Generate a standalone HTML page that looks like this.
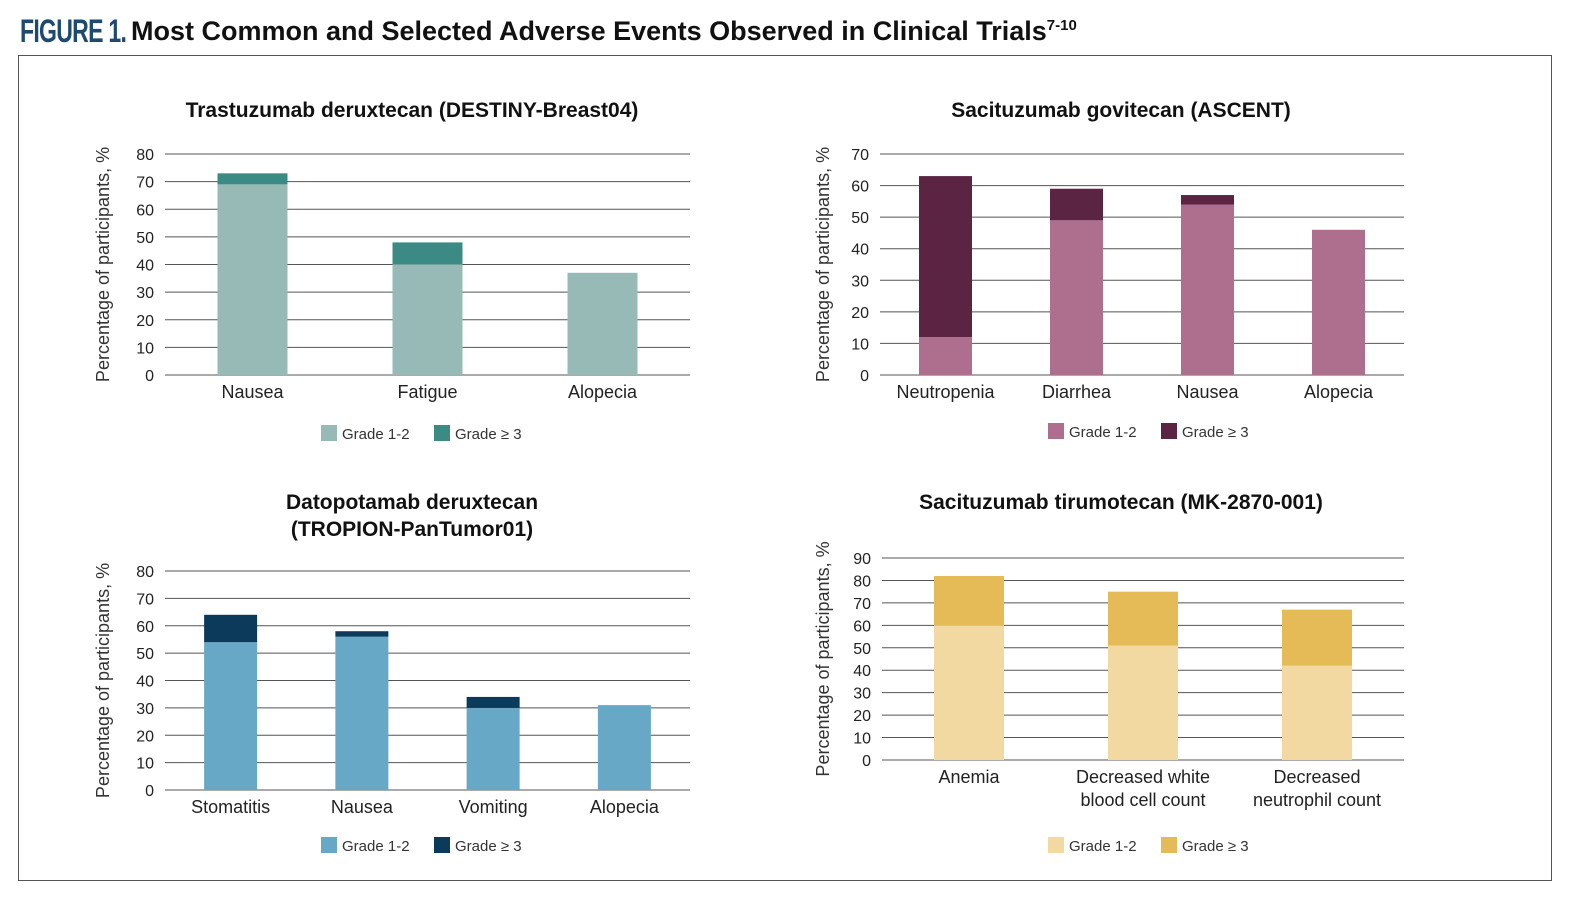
<!DOCTYPE html>
<html><head><meta charset="utf-8"><style>
body{margin:0;background:#fff;width:1594px;height:906px;overflow:hidden;font-family:"Liberation Sans",sans-serif}
#head{position:absolute;left:20px;top:13px;white-space:nowrap;width:1500px}
#fig{position:absolute;left:0;top:0;font-family:"Liberation Sans Narrow","Liberation Sans",sans-serif;font-weight:bold;color:#1d4a6e;font-size:32px;letter-spacing:-1px;transform:scaleX(0.72);transform-origin:left;display:inline-block}
#ttl{position:absolute;left:111px;top:3px;font-weight:bold;font-size:27px;color:#111}
#box{position:absolute;left:18px;top:55px;width:1532px;height:824px;border:1.5px solid #555}
svg{position:absolute;left:0;top:0}
</style></head><body>
<div id="head"><span id="fig">FIGURE 1.</span><span id="ttl">Most Common and Selected Adverse Events Observed in Clinical Trials<sup style="font-size:15px">7-10</sup></span></div>
<div id="box"></div>
<svg id="s" width="1594" height="906" xmlns="http://www.w3.org/2000/svg"></svg>
<script>
// Chart 1
const c1Cats=["Nausea","Fatigue","Alopecia"];
const c1G12=[69,40,37];
const c1G3=[4,8,0];
const c1Ticks=[0,10,20,30,40,50,60,70,80];
// Chart 2
const c2Cats=["Neutropenia","Diarrhea","Nausea","Alopecia"];
const c2G12=[12,49,54,46];
const c2G3=[51,10,3,0];
const c2Ticks=[0,10,20,30,40,50,60,70];
// Chart 3
const c3Cats=["Stomatitis","Nausea","Vomiting","Alopecia"];
const c3G12=[54,56,30,31];
const c3G3=[10,2,4,0];
const c3Ticks=[0,10,20,30,40,50,60,70,80];
// Chart 4
const c4Cats=[["Anemia"],["Decreased white","blood cell count"],["Decreased","neutrophil count"]];
const c4G12=[60,51,42];
const c4G3=[22,24,25];
const c4Ticks=[0,10,20,30,40,50,60,70,80,90];

const S=document.getElementById('s');const NS="http://www.w3.org/2000/svg";
function mk(t,a,txt){const e=document.createElementNS(NS,t);for(const k in a)e.setAttribute(k,a[k]);if(txt!==undefined)e.textContent=txt;S.appendChild(e);return e;}
function chart(o){
 const max=o.ticks[o.ticks.length-1];
 const y=v=>o.y0-(v/max)*(o.y0-o.y1);
 const n=o.cats.length,cw=(o.x1-o.x0)/n;
 const x=i=>o.x0+cw*(i+0.5);
 o.title.forEach((t,i)=>{const e=mk('text',{x:o.tx,y:o.ty+i*27,'text-anchor':'middle','font-size':21,'font-weight':'bold',fill:'#111'},t);
 });
 const yl=mk('text',{transform:`translate(${o.ylx},${(o.y0+o.y1)/2}) rotate(-90)`,'text-anchor':'middle','font-size':18,fill:'#333'},'Percentage of participants, %');
 
 o.ticks.forEach(t=>{const g=mk('line',{x1:o.x0,x2:o.x1,y1:y(t),y2:y(t),stroke:'#555','stroke-width':1});
 
 const l=mk('text',{x:o.x0-11,y:y(t)+6,'text-anchor':'end','font-size':16,fill:'#222'},t);
 });
 o.cats.forEach((c,i)=>{
  const b1=mk('rect',{x:x(i)-o.bw/2,y:y(o.g12[i]),width:o.bw,height:y(0)-y(o.g12[i]),fill:o.c1});
  
  if(o.g3[i]>0){const b2=mk('rect',{x:x(i)-o.bw/2,y:y(o.g12[i]+o.g3[i]),width:o.bw,height:y(o.g12[i])-y(o.g12[i]+o.g3[i]),fill:o.c2});
  }
  (Array.isArray(c)?c:[c]).forEach((s,j)=>{const t=mk('text',{x:x(i),y:o.y0+23+j*23,'text-anchor':'middle','font-size':18,fill:'#222'},s);
  });
 });
 const lx=o.lx;
 [[o.c1,'Grade 1-2',0],[o.c2,'Grade ≥ 3',113]].forEach(([c,t,d])=>{
  const r=mk('rect',{x:lx+d,y:o.ly-13,width:16,height:16,fill:c});
  const tt=mk('text',{x:lx+d+21,y:o.ly+1,'font-size':15,fill:'#333'},t);});
}
chart({id:'trastuzumab',cats:c1Cats,g12:c1G12,g3:c1G3,ticks:c1Ticks,x0:165,x1:690,y0:375,y1:154,bw:70,c1:'#97bab7',c2:'#3b8b84',title:['Trastuzumab deruxtecan (DESTINY-Breast04)'],tx:412,ty:117,ylx:109,lx:321,ly:438});
chart({id:'sacituzumab-govitecan',cats:c2Cats,g12:c2G12,g3:c2G3,ticks:c2Ticks,x0:880,x1:1404,y0:375,y1:154,bw:53,c1:'#ad6f8d',c2:'#5a2442',title:['Sacituzumab govitecan (ASCENT)'],tx:1121,ty:117,ylx:829,lx:1048,ly:436});
chart({id:'datopotamab',cats:c3Cats,g12:c3G12,g3:c3G3,ticks:c3Ticks,x0:165,x1:690,y0:790,y1:571,bw:53,c1:'#67a8c6',c2:'#0b3a5a',title:['Datopotamab deruxtecan','(TROPION-PanTumor01)'],tx:412,ty:509,ylx:109,lx:321,ly:850});
chart({id:'sacituzumab-tirumotecan',cats:c4Cats,g12:c4G12,g3:c4G3,ticks:c4Ticks,x0:882,x1:1404,y0:760,y1:558,bw:70,c1:'#f2d9a1',c2:'#e5bb57',title:['Sacituzumab tirumotecan (MK-2870-001)'],tx:1121,ty:509,ylx:829,lx:1048,ly:850});
</script>
</body></html>
